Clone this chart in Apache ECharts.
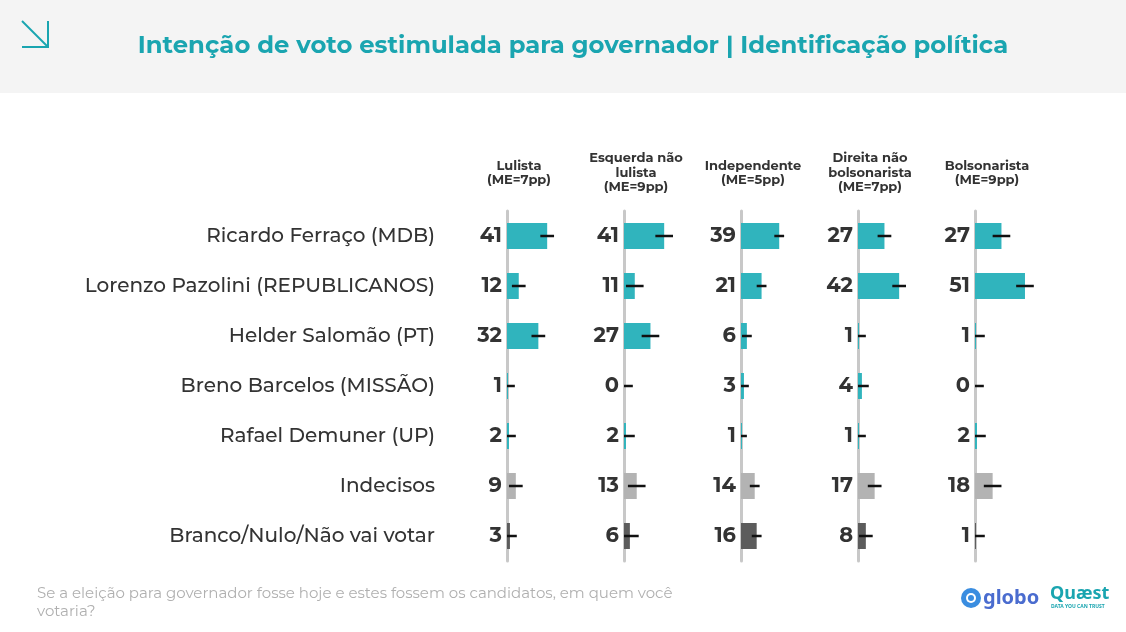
<!DOCTYPE html>
<html><head><meta charset="utf-8">
<script src="https://cdn.jsdelivr.net/npm/echarts@6/dist/echarts.min.js"></script>
<style>html,body{margin:0;padding:0;background:#fff}#c{width:1126px;height:632px}</style>
</head><body><div id="c"></div>
<script>
const candidates = ["Ricardo Ferraço (MDB)","Lorenzo Pazolini (REPUBLICANOS)","Helder Salomão (PT)","Breno Barcelos (MISSÃO)","Rafael Demuner (UP)","Indecisos","Branco/Nulo/Não vai votar"];
const panelTitles = ["Lulista\n(ME=7pp)","Esquerda não\nlulista\n(ME=9pp)","Independente\n(ME=5pp)","Direita não\nbolsonarista\n(ME=7pp)","Bolsonarista\n(ME=9pp)"];
const marginOfError = [7,9,5,7,9];
const lulista = [41,12,32,1,2,9,3];
const esquerdaNaoLulista = [41,11,27,0,2,13,6];
const independente = [39,21,6,3,1,14,16];
const direitaNaoBolsonarista = [27,42,1,4,1,17,8];
const bolsonarista = [27,51,1,0,2,18,1];
const panels = [lulista, esquerdaNaoLulista, independente, direitaNaoBolsonarista, bolsonarista];

const TEAL = '#30b4bd', LIGHT = '#b3b3b3', DARK = '#5c5c5c';
const FONT = 'Montserrat, "Open Sans", "Noto Sans", sans-serif';
const axisX = [507, 624, 741, 858, 975];
const gridW = 98;

const grid = [], xAxis = [], yAxis = [], series = [], graphic = [];
panels.forEach((vals, p) => {
  grid.push({left: axisX[p], top: 211, width: gridW, height: 350});
  xAxis.push({gridIndex: p, type: 'value', min: 0, max: 100, show: false});
  yAxis.push({gridIndex: p, type: 'category', data: candidates, inverse: true,
    axisLine: {show: true, lineStyle: {color: '#c8c8c8', width: 3}},
    axisTick: {show: false},
    axisLabel: p === 0 ? {show: true, margin: 72, fontSize: 20, fontWeight: 500, color: '#333', fontFamily: FONT} : {show: false},
    splitLine: {show: false}, z: 1});
  series.push({type: 'bar', xAxisIndex: p, yAxisIndex: p, barWidth: 26, z: 2,
    data: vals.map((v, i) => ({value: v, itemStyle: {color: i === 5 ? LIGHT : (i === 6 ? DARK : TEAL)}})),
    label: {show: true, position: 'left', distance: 5, fontSize: 21, fontWeight: 'bold', color: '#333', fontFamily: FONT, formatter: '{c}'}});
  const me = marginOfError[p];
  series.push({type: 'custom', xAxisIndex: p, yAxisIndex: p, z: 5,
    data: vals.map((v, i) => [v, i]),
    renderItem: (params, api) => {
      const v = api.value(0), c = api.value(1);
      const a = api.coord([Math.max(0, v - me), c]);
      const b = api.coord([v + me, c]);
      return {type: 'line', shape: {x1: a[0], y1: a[1], x2: b[0], y2: b[1]}, style: {stroke: '#111', lineWidth: 2.5}};
    }});
  graphic.push({type: 'text', z: 10,
    style: {text: panelTitles[p], x: axisX[p] + 12, y: 173, textAlign: 'center', textVerticalAlign: 'middle',
      font: 'bold 13px ' + FONT, fill: '#333', lineHeight: 14.5}});
});

graphic.unshift(
  {type: 'rect', shape: {x: 0, y: 0, width: 1126, height: 93}, style: {fill: '#f4f4f4'}, z: 0},
  {type: 'polyline', shape: {points: [[48, 21], [48, 47], [22, 47]]}, style: {stroke: '#1aa5b0', lineWidth: 2, fill: null}, z: 1},
  {type: 'line', shape: {x1: 22, y1: 21, x2: 47, y2: 46}, style: {stroke: '#1aa5b0', lineWidth: 2}, z: 1},
  {type: 'text', style: {text: 'Intenção de voto estimulada para governador | Identificação política', x: 573, y: 46,
    textAlign: 'center', textVerticalAlign: 'middle', font: 'bold 24.3px ' + FONT, fill: '#1aa5b0'}, z: 1},
  {type: 'text', style: {text: 'Se a eleição para governador fosse hoje e estes fossem os candidatos, em quem você\nvotaria?', x: 37, y: 585,
    font: '15px ' + FONT, fill: '#b0b0b0', lineHeight: 18}, z: 1},
  {type: 'circle', shape: {cx: 971, cy: 598, r: 10}, style: {fill: '#3a8de0'}, z: 1},
  {type: 'circle', shape: {cx: 971, cy: 598, r: 5}, style: {fill: '#fff'}, z: 2},
  {type: 'circle', shape: {cx: 971, cy: 598, r: 3}, style: {fill: '#3a8de0'}, z: 3},
  {type: 'text', style: {text: 'globo', x: 983, y: 598, textVerticalAlign: 'middle', font: 'bold 20px "Noto Sans", sans-serif', fill: '#4a6ccf'}, z: 1},
  {type: 'text', style: {text: 'Quæst', x: 1050, y: 594, textVerticalAlign: 'middle', font: 'bold 18px "Noto Sans", sans-serif', fill: '#1aa5b0'}, z: 1},
  {type: 'text', style: {text: 'DATA YOU CAN TRUST', x: 1051, y: 607, textVerticalAlign: 'middle', font: 'bold 5px "Noto Sans", sans-serif', fill: '#1aa5b0'}, z: 1}
);

const chart = echarts.init(document.getElementById('c'));
chart.setOption({animation: false, backgroundColor: '#fff', grid, xAxis, yAxis, series, graphic});
</script></body></html>
